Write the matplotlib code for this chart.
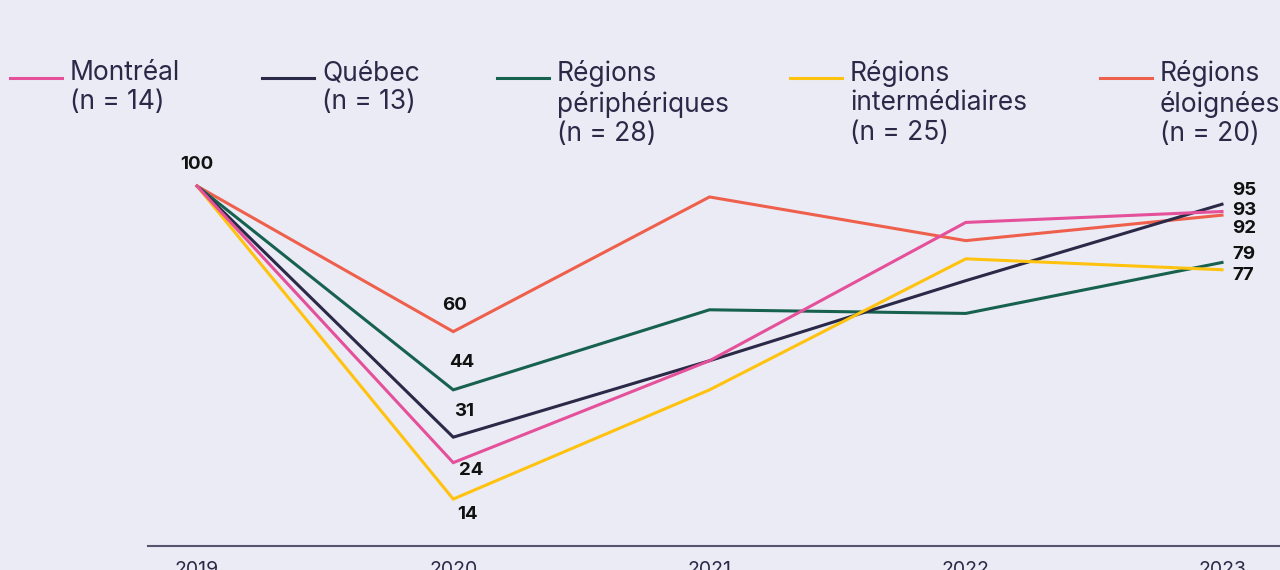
import matplotlib
matplotlib.use("Agg")
import matplotlib.pyplot as plt
from matplotlib.lines import Line2D

years = [2019, 2020, 2021, 2022, 2023]
series_names = ["Montréal\n(n = 14)", "Québec\n(n = 13)", "Régions\npériphériques\n(n = 28)",
                "Régions\nintermédiaires\n(n = 25)", "Régions\néloignées\n(n = 20)"]
montreal = [100, 24, 52, 90, 93]
quebec = [100, 31, 52, 74, 95]
peripheriques = [100, 44, 66, 65, 79]
intermediaires = [100, 14, 44, 80, 77]
eloignees = [100, 60, 97, 85, 92]
values = [montreal, quebec, peripheriques, intermediaires, eloignees]
colors = ["#E4519A", "#2A2947", "#17614F", "#FFC20E", "#EE604C"]
zorders = [6, 4, 3, 5, 2]

# label offsets in pixels (2020 labels, 2023 labels)
off2020 = [(18, -8), (11, 26), (8, 27), (14, -15), (1, 26)]
off2023 = [(10, 1), (10, 14), (10, 8), (10, -6), (10, -13)]

BG = "#EBEBF5"
plt.rcParams["font.family"] = ["Inter", "DejaVu Sans"]

fig = plt.figure(figsize=(12.8, 5.7), dpi=100, facecolor=BG)
ax = fig.add_axes([148 / 1280, 1 - 546 / 570, (1280 - 148) / 1280, (546 - 150) / 570])
ax.set_facecolor(BG)
ax.set_xlim(2019 - 49 / 256.25, 2023 + 58 / 256.25)
ax.set_ylim(1.1, 109.9)

for v, c, z in zip(values, colors, zorders):
    ax.plot(years, v, color=c, lw=2.2, zorder=z, solid_joinstyle="miter")

tfont = dict(fontsize=13.5, fontweight="bold", color="#111111")
ax.annotate(str(values[0][0]), (years[0], values[0][0]), xytext=(0, 22),
            textcoords="offset pixels", ha="center", va="center", **tfont)
for v, o1, o2 in zip(values, off2020, off2023):
    ax.annotate(str(v[1]), (years[1], v[1]), xytext=o1, textcoords="offset pixels",
                ha="center", va="center", **tfont)
    ax.annotate(str(v[4]), (years[4], v[4]), xytext=o2, textcoords="offset pixels",
                ha="left", va="center", **tfont)

for s in ["top", "right", "left"]:
    ax.spines[s].set_visible(False)
ax.spines["bottom"].set_color("#55556F")
ax.spines["bottom"].set_linewidth(1.5)
ax.set_yticks([])
ax.set_xticks(years)
ax.set_xticklabels([str(y) for y in years], fontsize=14, color="#2A2947")
ax.tick_params(axis="x", length=0, pad=11)

# legend (manual placement)
leg_x = [10, 262, 497, 790, 1100]
for x0, name, c in zip(leg_x, series_names, colors):
    fig.add_artist(Line2D([x0 / 1280, (x0 + 52) / 1280], [1 - 78 / 570] * 2,
                          color=c, lw=2.2, transform=fig.transFigure))
    fig.text((x0 + 60) / 1280, 1 - 60 / 570, name, ha="left", va="top",
             fontsize=19, color="#2A2947", linespacing=1.17, fontweight="normal")

fig.savefig("out.png", dpi=100, facecolor=BG)
